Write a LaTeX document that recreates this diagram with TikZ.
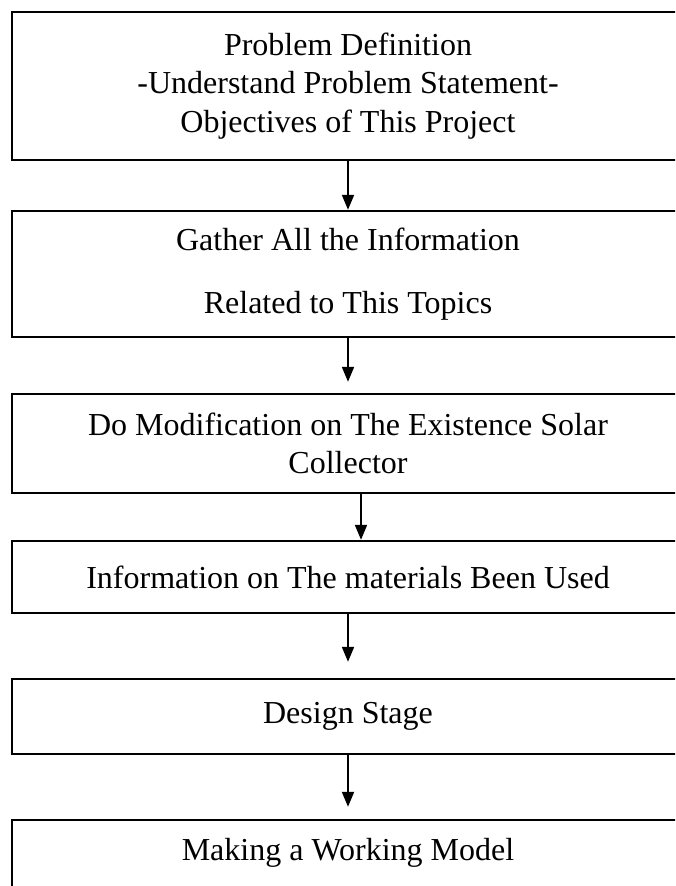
\documentclass[tikz,border=0pt]{standalone}
\usepackage{fontspec}
\setmainfont{Liberation Serif}
\usetikzlibrary{arrows.meta}
\begin{document}
\begin{tikzpicture}[x=1pt,y=1pt,
  stagebox/.style={draw, line width=2.4pt, minimum width=672pt, inner sep=0pt,
    align=center, font=\fontsize{32}{38.4}\selectfont},
  flow/.style={-{Triangle[length=15pt,width=12pt]}, line width=2pt}]
\useasboundingbox (0,0) rectangle (675,-886);
\clip (0,0) rectangle (675,-886);
\node[stagebox, minimum height=148pt] (b1) at (348,-86)
  {Problem Definition\\-Understand Problem Statement-\\Objectives of This Project};
\node[stagebox, minimum height=126pt] (b2) at (348,-274)
  {Gather All the Information\\[24.6pt]Related to This Topics};
\node[stagebox, minimum height=99pt] (b3) at (348,-443.5)
  {Do Modification on The Existence Solar\\Collector};
\node[stagebox, minimum height=72pt] (b4) at (348,-577)
  {Information on The materials Been Used};
\node[stagebox, minimum height=75pt] (b5) at (348,-716.5)
  {Design Stage};
\node[stagebox, minimum height=80pt, text depth=22pt] (b6) at (348,-860)
  {Making a Working Model};
\draw[flow] (b1.south) -- (b2.north);
\draw[flow, shorten >=11pt] (b2.south) -- (b3.north);
\draw[flow] ([xshift=13pt]b3.south) -- ([xshift=13pt]b4.north);
\draw[flow, shorten >=16pt] (b4.south) -- (b5.north);
\draw[flow, shorten >=12pt] (b5.south) -- (b6.north);
\end{tikzpicture}
\end{document}
